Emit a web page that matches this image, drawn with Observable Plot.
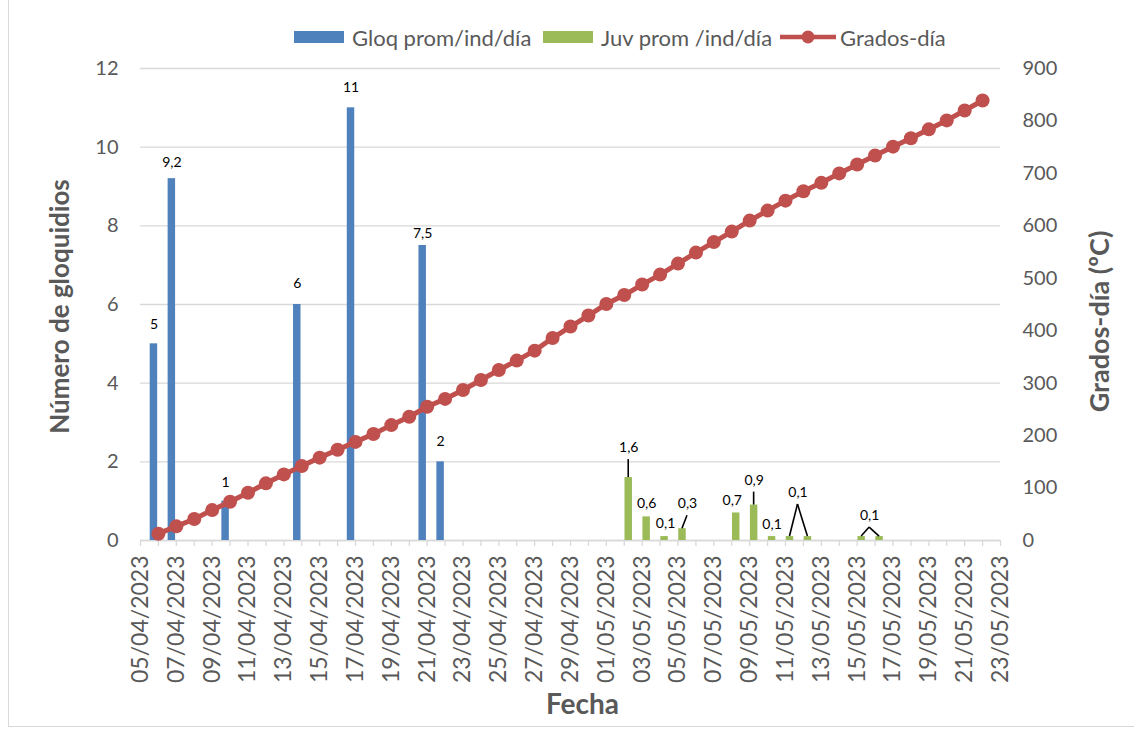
<!DOCTYPE html>
<html>
<head>
<meta charset="utf-8">
<script src="https://cdn.jsdelivr.net/npm/d3@7"></script>
<script src="https://cdn.jsdelivr.net/npm/@observablehq/plot@0.6"></script>
<style>
  body { margin: 0; background: #fff; font-family: Lato, "Open Sans", sans-serif; }
  #wrap { position: relative; width: 1134px; height: 729px; overflow: hidden; }
  #frame { position: absolute; left: 8px; top: -2px; width: 1140px; height: 729px;
           border: 1px solid #d9d9d9; box-sizing: border-box; pointer-events: none; }
  #chart { position: absolute; left: 0; top: 0; }
  .leg { position: absolute; top: 0; height: 26px; display: flex; align-items: center;
         font-size: 22px; color: #595959; white-space: nowrap; }
  .sw { display: inline-block; width: 50px; height: 12px; margin-right: 8px; }
  #legend { position: absolute; left: 0; top: 24px; width: 1134px; height: 26px; }
</style>
</head>
<body>
<div id="wrap">
  <div id="chart"></div>
  <div id="legend">
    <div class="leg" style="left:294px"><span class="sw" style="background:#4F81BD"></span>Gloq prom/ind/día</div>
    <div class="leg" style="left:543px"><span class="sw" style="background:#9BBB59"></span>Juv prom /ind/día</div>
    <div class="leg" style="left:780px">
      <svg width="56" height="16" style="margin-right:4px"><line x1="0" x2="56" y1="8" y2="8" stroke="#C0504D" stroke-width="4.5"/><circle cx="28" cy="8" r="6.5" fill="#C0504D"/></svg>Grados-día
    </div>
  </div>
  <div id="frame"></div>
</div>
<script>
// Daily accumulated degree-days, 06/04/2023 – 22/05/2023
const inicio = "2023-04-06";
const gradosDia = [13, 27, 41, 58, 74, 91, 109, 126, 142, 158, 173, 188, 203, 220, 236, 255,
  270, 287, 306, 325, 343, 362, 386, 408, 429, 451, 468, 488, 507, 528, 549, 569,
  589, 610, 629, 648, 666, 682, 700, 717, 734, 751, 767, 784, 801, 820, 839];

// Glochidia per individual per day
const gloqFechas = ["2023-04-06", "2023-04-07", "2023-04-10", "2023-04-14", "2023-04-17", "2023-04-21", "2023-04-22"];
const gloqValores = [5, 9.2, 1, 6, 11, 7.5, 2];

// Juveniles per individual per day
const juvFechas = ["2023-05-02", "2023-05-03", "2023-05-04", "2023-05-05", "2023-05-08", "2023-05-09",
  "2023-05-10", "2023-05-11", "2023-05-12", "2023-05-15", "2023-05-16"];
const juvValores = [1.6, 0.6, 0.1, 0.3, 0.7, 0.9, 0.1, 0.1, 0.1, 0.1, 0.1];

// Axis ticks
const ticksIzq = [0, 2, 4, 6, 8, 10, 12];
const ticksDer = [0, 100, 200, 300, 400, 500, 600, 700, 800, 900];

// Label placement: pixel offset of each label centre from the top of its bar
const gloqEtiquetaDy = [-19, -16, -19, -21, -20, -12, -20];
const juvEtiquetas = [
  {fecha: "2023-05-02", dx: 0, dy: -30, guia: ["2023-05-02"]},
  {fecha: "2023-05-03", dx: 0, dy: -13},
  {fecha: "2023-05-04", dx: 1, dy: -13},
  {fecha: "2023-05-05", dx: 5, dy: -25, guia: ["2023-05-05"]},
  {fecha: "2023-05-08", dx: -4, dy: -12},
  {fecha: "2023-05-09", dx: 0, dy: -25, guia: ["2023-05-09"]},
  {fecha: "2023-05-10", dx: 0, dy: -12},
  {fecha: "2023-05-11", dx: 8, dy: -44, guia: ["2023-05-11", "2023-05-12"]},
  {fecha: "2023-05-15", dx: 8, dy: -21, guia: ["2023-05-15", "2023-05-16"]}
];

const parse = d3.utcParse("%Y-%m-%d");
const H = 3600e3;
const coma = v => String(v).replace(".", ",");
const escala = 900 / 12; // degree-days per left-axis unit

const dias = d3.utcDay.range(parse(inicio), d3.utcDay.offset(parse(inicio), gradosDia.length));
const grados = gradosDia.map((g, i) => ({fecha: dias[i], g}));
const gloq = gloqFechas.map((f, i) => ({fecha: parse(f), v: gloqValores[i]}));
const juv = juvFechas.map((f, i) => ({fecha: parse(f), v: juvValores[i]}));
const juvPorFecha = new Map(juvFechas.map((f, i) => [f, juvValores[i]]));

const dominio = [parse("2023-04-05"), parse("2023-05-23")];
const diasEje = d3.utcDay.range(dominio[0], d3.utcDay.offset(dominio[1], 1));
const diasEtiqueta = d3.utcDay.range(dominio[0], d3.utcDay.offset(dominio[1], 1), 2);

const gris = "#595959";
const centroGloq = d => new Date(+d - 6 * H);
const centroJuv = d => new Date(+d + 6 * H);

// Leader lines joining moved juvenile labels to their bars
function guias(index, scales) {
  const {x, y} = scales;
  const g = d3.create("svg:g").attr("stroke", "#000").attr("stroke-width", 1.6).attr("fill", "none");
  for (const e of juvEtiquetas) {
    if (!e.guia) continue;
    const v = juvPorFecha.get(e.fecha);
    const lx = x(centroJuv(parse(e.fecha))) + e.dx;
    const ly = y(v) + e.dy + 12;
    for (const f of e.guia) {
      g.append("line")
        .attr("x1", lx).attr("y1", ly)
        .attr("x2", x(centroJuv(parse(f)))).attr("y2", y(juvPorFecha.get(f)));
    }
  }
  return g.node();
}

const plot = Plot.plot({
  width: 1134,
  height: 729,
  marginLeft: 140,
  marginRight: 134,
  marginTop: 68,
  marginBottom: 189,
  style: {fontFamily: "Lato, 'Open Sans', sans-serif", background: "transparent", overflow: "visible"},
  x: {type: "utc", domain: dominio},
  y: {domain: [0, 12]},
  marks: [
    Plot.gridY(ticksIzq, {stroke: "#d9d9d9", strokeOpacity: 1, strokeWidth: 1.3}),
    Plot.ruleY([0], {stroke: "#d9d9d9", strokeWidth: 1.3}),
    // day ticks on the date axis
    Plot.axisX({ticks: diasEje, tickFormat: () => "", tickSize: 6, stroke: "#d9d9d9", strokeOpacity: 1, strokeWidth: 1.3, label: null}),
    Plot.axisX({ticks: diasEtiqueta, tickFormat: d3.utcFormat("%d/%m/%Y"), tickSize: 0, tickPadding: 15,
      tickRotate: -90, fontSize: 23, fill: gris, label: null}),
    Plot.axisY({ticks: ticksIzq, tickSize: 0, tickPadding: 22, fontSize: 20, fill: gris, label: null}),
    Plot.axisY({anchor: "right", ticks: ticksDer.map(v => v / escala), tickFormat: d => Math.round(d * escala),
      tickSize: 0, tickPadding: 22, fontSize: 20, fill: gris, label: null}),
    Plot.rectY(gloq, {x1: d => new Date(+d.fecha - 11 * H), x2: d => new Date(+d.fecha - 1 * H), y: "v", fill: "#4F81BD"}),
    Plot.rectY(juv, {x1: d => new Date(+d.fecha + 1 * H), x2: d => new Date(+d.fecha + 11 * H), y: "v", fill: "#9BBB59"}),
    Plot.line(grados, {x: "fecha", y: d => d.g / escala, stroke: "#C0504D", strokeWidth: 5}),
    Plot.dot(grados, {x: "fecha", y: d => d.g / escala, r: 7, fill: "#C0504D"}),
    ...gloq.map((d, i) => Plot.text([d], {x: e => centroGloq(e.fecha), y: "v", text: e => coma(e.v),
      dy: gloqEtiquetaDy[i], fontSize: 14, fill: "#000"})),
    ...juvEtiquetas.map(e => Plot.text([e], {x: k => centroJuv(parse(k.fecha)), y: k => juvPorFecha.get(k.fecha),
      text: k => coma(juvPorFecha.get(k.fecha)), dx: e.dx, dy: e.dy, fontSize: 14, fill: "#000"})),
    guias,
    // axis titles
    Plot.text(["Número de gloquidios"], {frameAnchor: "left", dx: -80, dy: 2, rotate: -90, textAnchor: "middle",
      fontSize: 26, fontWeight: "bold", fill: gris}),
    Plot.text(["Grados-día (ºC)"], {frameAnchor: "right", dx: 100, dy: 17, rotate: -90, textAnchor: "middle",
      fontSize: 27, fontWeight: "bold", fill: gris}),
    Plot.text(["Fecha"], {frameAnchor: "bottom", dx: 12, dy: 173, textAnchor: "middle",
      fontSize: 28, fontWeight: "bold", fill: gris})
  ]
});
document.getElementById("chart").append(plot);
</script>
</body>
</html>
